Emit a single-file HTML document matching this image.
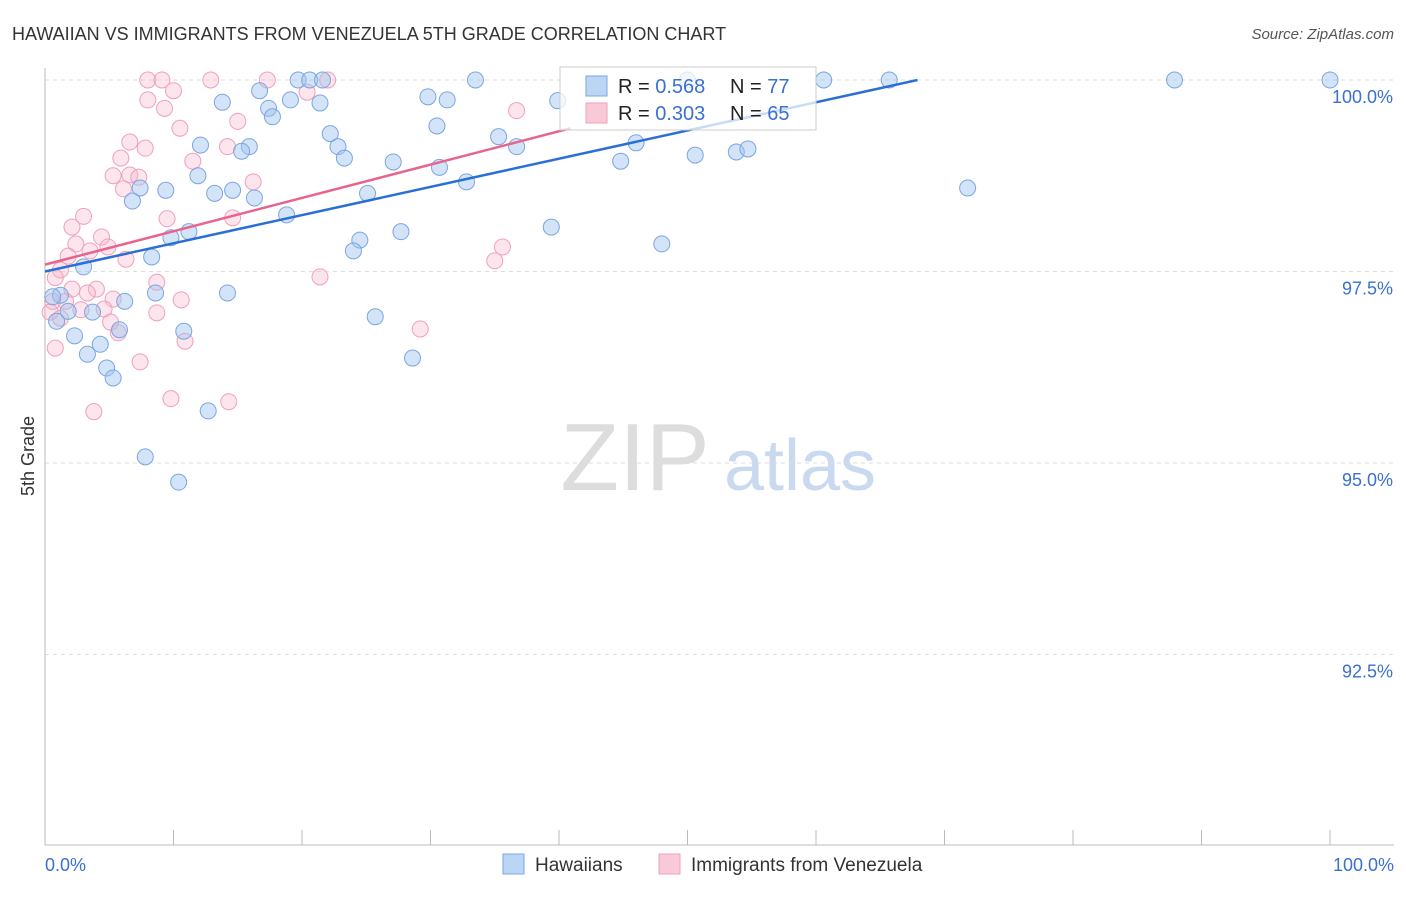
<!DOCTYPE html>
<html><head><meta charset="utf-8"><style>
body{margin:0;background:#fff;font-family:"Liberation Sans",sans-serif;}
svg text{font-family:"Liberation Sans",sans-serif;}
</style></head><body>
<svg id="chart" width="1406" height="892">
<text x="12" y="40" font-size="18" fill="#333">HAWAIIAN VS IMMIGRANTS FROM VENEZUELA 5TH GRADE CORRELATION CHART</text>
<text x="1394" y="39" font-size="15" fill="#555" text-anchor="end" font-style="italic">Source: ZipAtlas.com</text>
<text x="34" y="456" font-size="18" fill="#333" text-anchor="middle" transform="rotate(-90 34 456)">5th Grade</text>
<g><text x="635" y="490" font-size="96" fill="#ddd" text-anchor="middle" font-family="Liberation Serif,serif">ZIP</text><text x="800" y="490" font-size="72" fill="#c9daf0" text-anchor="middle">atlas</text></g>
<g id="grid"></g><g id="axes"></g><g id="pts"></g><g id="lines"></g>
<g>
<rect x="560" y="67" width="256" height="63" fill="rgba(255,255,255,0.75)" stroke="#ccc"/>
<rect x="586" y="76" width="21" height="20" fill="rgba(160,195,240,0.7)" stroke="#7aa6e0"/>
<rect x="586" y="103" width="21" height="20" fill="rgba(245,180,200,0.7)" stroke="#f0a0bb"/>
<text x="618" y="93" font-size="20" fill="#222">R = <tspan fill="#3a70d0">0.568</tspan><tspan x="730">N = </tspan><tspan fill="#3a70d0">77</tspan></text>
<text x="618" y="120" font-size="20" fill="#222">R = <tspan fill="#3a70d0">0.303</tspan><tspan x="730">N = </tspan><tspan fill="#3a70d0">65</tspan></text>
</g>
<g>
<rect x="503" y="854" width="21" height="20" fill="rgba(160,195,240,0.7)" stroke="#7aa6e0"/>
<text x="535" y="871" font-size="19" fill="#333">Hawaiians</text>
<rect x="659" y="854" width="21" height="20" fill="rgba(245,180,200,0.7)" stroke="#f0a0bb"/>
<text x="691" y="871" font-size="19" fill="#333">Immigrants from Venezuela</text>
</g>
</svg>
<script>
const yTicks=[100,97.5,95,92.5];
const yTickLabels=["100.0%","97.5%","95.0%","92.5%"];
const xTickLabels=["0.0%","100.0%"];
const blueX=[19.7,20.6,21.6,33.5,60.6,65.7,87.9,100,50.0,16.7,29.8,31.3,13.8,19.1,21.4,39.9,17.4,17.7,30.5,22.2,35.3,12.1,22.8,36.7,15.9,15.3,46.0,23.3,27.1,30.7,44.8,50.6,53.8,54.7,11.9,32.8,7.4,9.4,13.2,14.6,16.3,25.1,71.8,6.8,18.8,39.4,11.2,27.7,9.8,24.5,24.0,48.0,8.3,3.0,1.2,8.6,14.2,6.2,0.6,3.7,1.8,25.7,0.9,5.8,10.8,2.3,4.3,3.3,28.6,4.8,5.3,12.7,7.8,10.4];
const blueY=[100,100,100,100,100,100,100,100,100,99.86,99.78,99.74,99.71,99.74,99.70,99.73,99.63,99.52,99.40,99.30,99.26,99.15,99.13,99.13,99.13,99.07,99.18,98.98,98.93,98.86,98.94,99.02,99.06,99.10,98.75,98.67,98.59,98.56,98.52,98.56,98.46,98.52,98.59,98.42,98.24,98.08,98.02,98.02,97.94,97.91,97.77,97.86,97.69,97.56,97.19,97.22,97.22,97.11,97.17,96.97,96.98,96.91,96.85,96.74,96.72,96.66,96.55,96.42,96.37,96.24,96.11,95.68,95.08,94.75];
const pinkX=[8.0,9.1,12.9,17.3,22.0,10.0,8.0,9.3,36.7,20.4,15.0,10.5,6.6,7.8,14.2,11.5,5.9,5.3,6.6,7.3,16.2,6.1,3.0,9.5,14.6,2.1,4.4,2.4,4.9,3.5,35.6,1.8,6.3,35.0,1.2,21.4,0.8,8.7,2.1,4.0,3.3,5.3,10.6,0.6,1.6,4.6,2.8,8.7,0.4,29.2,5.1,5.7,10.9,0.8,7.4,9.8,14.3,3.8,1.2];
const pinkY=[100,100,100,100,100,99.86,99.74,99.63,99.60,99.84,99.46,99.37,99.19,99.11,99.13,98.94,98.98,98.75,98.76,98.73,98.67,98.58,98.22,98.19,98.20,98.08,97.95,97.86,97.82,97.77,97.82,97.70,97.66,97.64,97.52,97.43,97.42,97.36,97.27,97.27,97.22,97.14,97.13,97.11,97.11,97.01,97.00,96.96,96.97,96.75,96.84,96.70,96.59,96.50,96.32,95.84,95.80,95.67,96.89];
const blueLine=[[0,97.5],[67.9,100]];
const pinkLine=[[0,97.59],[40.9,99.37]];
const NS="http://www.w3.org/2000/svg";
const sx=v=>45+v*12.85, sy=v=>80+(100-v)*76.6;
function mk(t,a,p){const e=document.createElementNS(NS,t);for(const k in a)e.setAttribute(k,a[k]);p.appendChild(e);return e;}
const grid=document.getElementById('grid'),axes=document.getElementById('axes');
yTicks.forEach((t,i)=>{
 const l=mk('line',{x1:45,x2:1394,y1:sy(t),y2:sy(t),stroke:'#ddd','stroke-dasharray':'4,4'},grid);
 
 
 const tx=mk('text',{x:1393,y:sy(t)+23,'font-size':18,fill:'#3a70d0','text-anchor':'end'},axes);
 tx.textContent=yTickLabels[i];
 
 
});
mk('line',{x1:45,x2:45,y1:68,y2:845,stroke:'#bbb'},axes);
mk('line',{x1:45,x2:1394,y1:845,y2:845,stroke:'#bbb'},axes);
for(let i=0;i<=10;i++){const l=mk('line',{x1:sx(i*10),x2:sx(i*10),y1:830,y2:845,stroke:'#bbb'},axes);
 
 }
const xl0=mk('text',{x:45,y:871,'font-size':18,fill:'#3a70d0'},axes);xl0.textContent=xTickLabels[0];


const xl1=mk('text',{x:1394,y:871,'font-size':18,fill:'#3a70d0','text-anchor':'end'},axes);xl1.textContent=xTickLabels[1];


const pts=document.getElementById('pts');
pinkX.forEach((x,i)=>{const c=mk('circle',{cx:sx(x),cy:sy(pinkY[i]),r:8,fill:'rgba(245,180,200,0.35)',stroke:'#f0a0bb','stroke-width':1},pts);
 
 });
blueX.forEach((x,i)=>{const c=mk('circle',{cx:sx(x),cy:sy(blueY[i]),r:8,fill:'rgba(160,195,240,0.45)',stroke:'#7aa6e0','stroke-width':1},pts);
 
 });
const lines=document.getElementById('lines');
const bl=mk('line',{x1:sx(blueLine[0][0]),y1:sy(blueLine[0][1]),x2:sx(blueLine[1][0]),y2:sy(blueLine[1][1]),stroke:'#2a6fd6','stroke-width':2.5},lines);


const pl=mk('line',{x1:sx(pinkLine[0][0]),y1:sy(pinkLine[0][1]),x2:sx(pinkLine[1][0]),y2:sy(pinkLine[1][1]),stroke:'#e8648e','stroke-width':2.5},lines);


</script>
</body></html>
